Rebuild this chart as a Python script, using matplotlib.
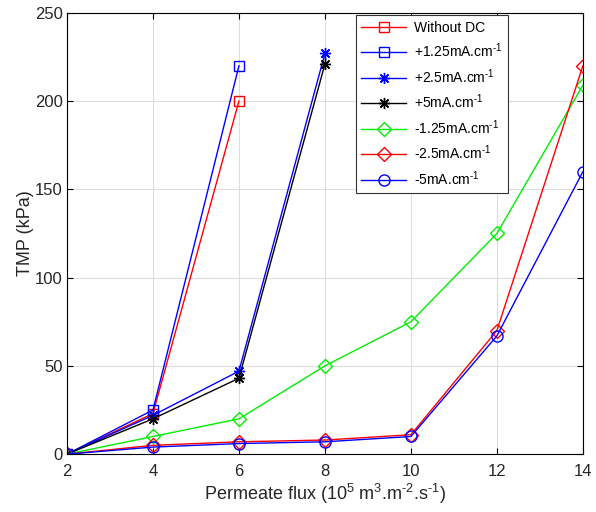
import matplotlib
matplotlib.use('Agg')
import matplotlib.pyplot as plt

plt.rcParams['font.family'] = ['Liberation Sans', 'DejaVu Sans']
plt.rcParams['mathtext.fontset'] = 'custom'
plt.rcParams['mathtext.rm'] = 'Liberation Sans'
plt.rcParams['mathtext.it'] = 'Liberation Sans'

flux_short = [2, 4, 6]
flux_mid = [2, 4, 6, 8]
flux_all = [2, 4, 6, 8, 10, 12, 14]

without_dc = [0, 23, 200]
pos_125 = [0, 25, 220]
pos_25 = [0, 22, 47, 227]
pos_5 = [0, 20, 43, 221]
neg_125 = [0, 10, 20, 50, 75, 125, 209]
neg_25 = [0, 5, 7, 8, 11, 70, 220]
neg_5 = [0, 4, 6, 7, 10, 67, 160]

x_ticks = [2, 4, 6, 8, 10, 12, 14]
y_ticks = [0, 50, 100, 150, 200, 250]

sup = r'mA.cm$^{\text{-}1}$'
asterisk = (8, 2, 0)

fig = plt.figure(figsize=(5.96, 5.12), dpi=100)
ax = fig.add_axes([0.1124, 0.113, 0.8656, 0.862])

ax.plot(flux_short, without_dc, color='red', marker='s', ms=7, mfc='none', lw=1, label='Without DC')
ax.plot(flux_short, pos_125, color='blue', marker='s', ms=7, mfc='none', lw=1, label='+1.25' + sup)
ax.plot(flux_mid, pos_25, color='blue', marker=asterisk, ms=8, mew=1, lw=1, label='+2.5' + sup)
ax.plot(flux_mid, pos_5, color='black', marker=asterisk, ms=8, mew=1, lw=1, label='+5' + sup)
ax.plot(flux_all, neg_125, color='#00ee00', marker='D', ms=7, mfc='none', lw=1, label='-1.25' + sup)
ax.plot(flux_all, neg_25, color='red', marker='D', ms=7, mfc='none', lw=1, label='-2.5' + sup)
ax.plot(flux_all, neg_5, color='blue', marker='o', ms=8, mfc='none', lw=1, label='-5' + sup)

ax.set_xlim(2, 14)
ax.set_ylim(0, 250)
ax.set_xticks(x_ticks)
ax.set_yticks(y_ticks)
ax.grid(True, color='#dddddd', lw=0.8)
ax.set_axisbelow(True)
ax.tick_params(direction='in', length=4, labelsize=12, top=True, right=True,
               labelcolor='#262626')
ax.tick_params(axis='x', pad=7)
ax.tick_params(axis='y', pad=3)
for s in ax.spines.values():
    s.set_linewidth(0.8)

ax.set_xlabel(r'Permeate flux (10$^{5}$ m$^{3}$.m$^{\text{-}2}$.s$^{\text{-}1}$)', fontsize=13,
              labelpad=2, color='#262626')
ax.set_ylabel('TMP (kPa)', fontsize=13, labelpad=1, color='#262626')

leg = ax.legend(loc='upper left', bbox_to_anchor=(0.56, 0.995), borderaxespad=0, fontsize=10,
                handlelength=3.2, handletextpad=0.6, fancybox=False, edgecolor='#333333',
                framealpha=1, borderpad=0.4, labelspacing=0.5)
leg.get_frame().set_linewidth(0.8)

fig.savefig('out.png', dpi=100)
